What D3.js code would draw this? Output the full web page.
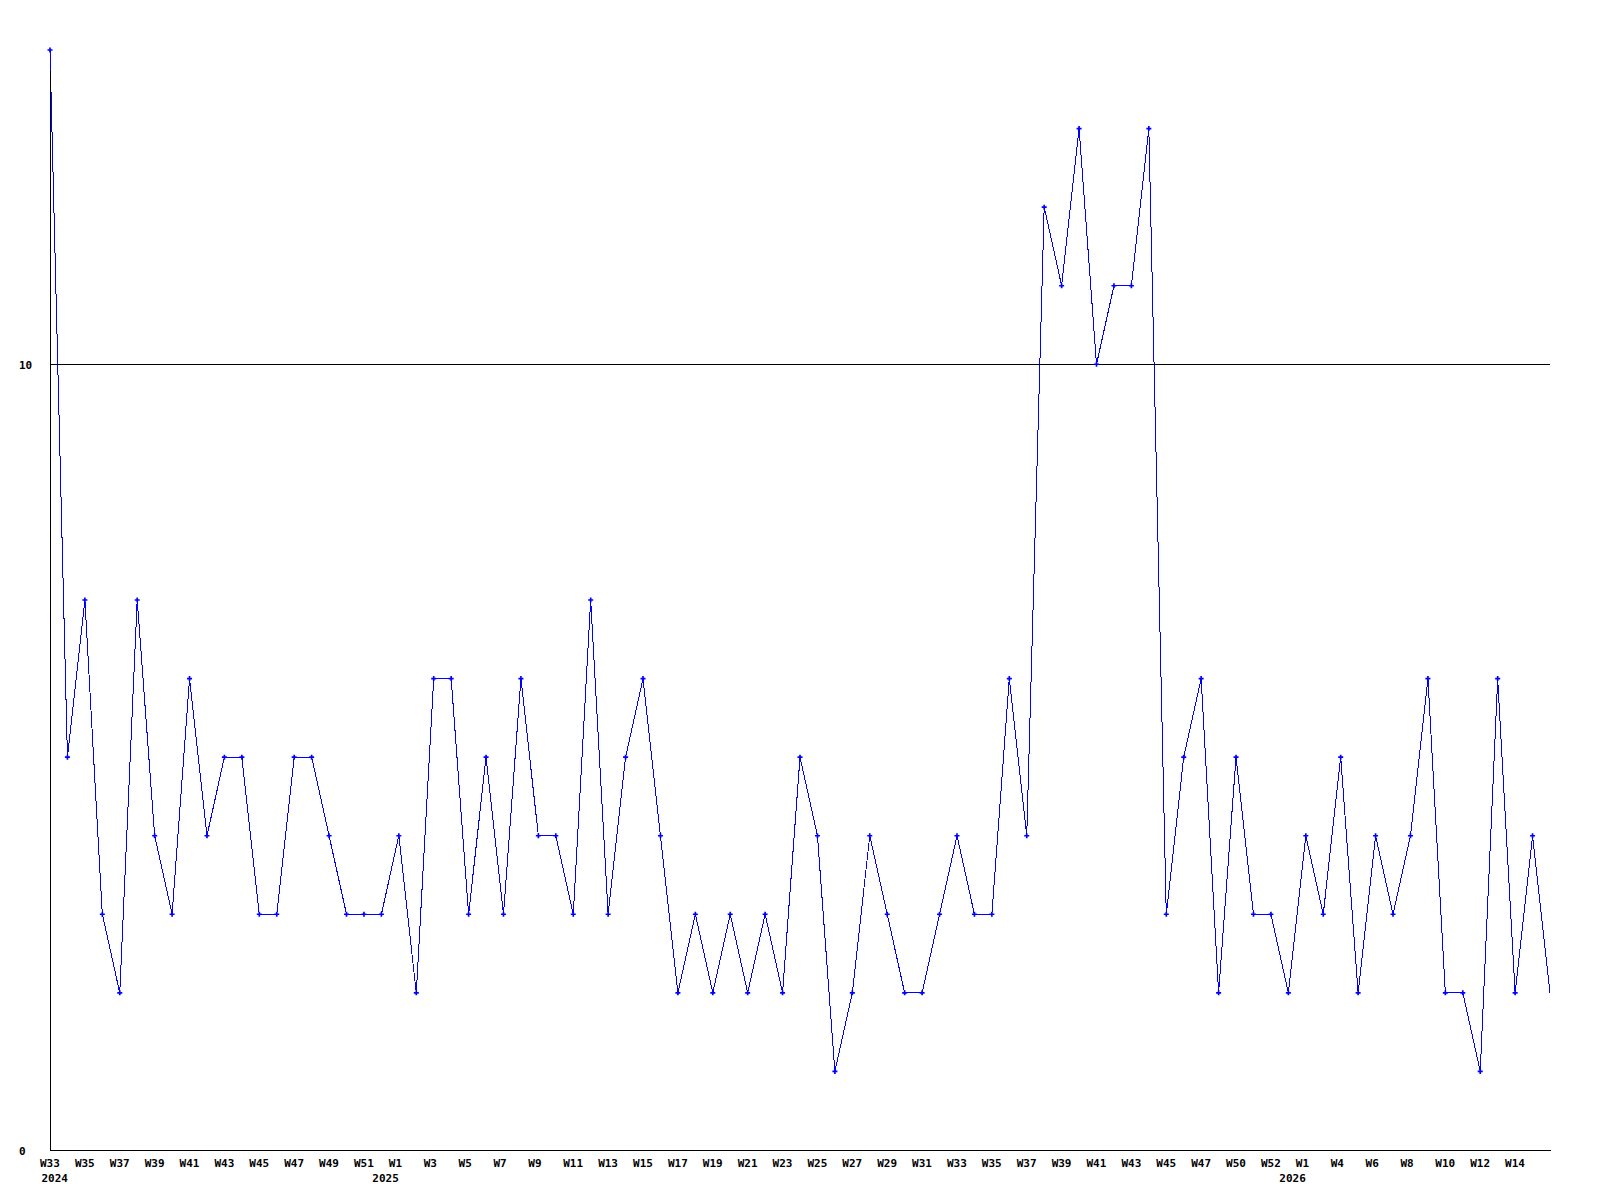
<!DOCTYPE html>
<html>
<head>
<meta charset="utf-8">
<script src="https://cdn.jsdelivr.net/npm/d3@7"></script>
<style>
  body { margin: 0; background: #fff; }
  text { font-family: "DejaVu Sans Mono", monospace; font-weight: bold; font-size: 11px; fill: #000; }
</style>
</head>
<body>
<div id="chart"></div>
<script>
var svgWidth = 1600;
var svgHeight = 1200;

// weekly counts, 2024-W33 .. 2026-W15
var values2024 = [14, 5, 7, 3, 2, 7, 4, 3, 6, 4, 5, 5, 3, 3, 5, 5, 4, 3, 3, 3];
var values2025 = [4, 2, 6, 6, 3, 5, 3, 6, 4, 4, 3, 7, 3, 5, 6, 4, 2, 3, 2, 3,
                  2, 3, 2, 5, 4, 1, 2, 4, 3, 2, 2, 3, 4, 3, 3, 6, 4, 12, 11, 13,
                  10, 11, 11, 13, 3, 5, 6, 2, 5, 3, 3, 2];
var values2026 = [4, 3, 5, 2, 4, 3, 4, 6, 2, 2, 1, 6, 2, 4, 2];

// one label every second week, as printed on the original
var weekLabels = ["W33", "W35", "W37", "W39", "W41", "W43", "W45", "W47", "W49", "W51",
                  "W1", "W3", "W5", "W7", "W9", "W11", "W13", "W15", "W17", "W19",
                  "W21", "W23", "W25", "W27", "W29", "W31", "W33", "W35", "W37", "W39",
                  "W41", "W43", "W45", "W47", "W50", "W52", "W1", "W4", "W6", "W8",
                  "W10", "W12", "W14"];
var yearLabels = ["2024", "2025", "2026"];
var yearLabelSlots = [0, 10, 36];   // index into weekLabels
var yTicks = [0, 10];

var values = values2024.concat(values2025, values2026);

var margin = { top: 50, right: 50, bottom: 50, left: 50 };
var chartWidth = svgWidth - margin.left - margin.right;
var chartHeight = svgHeight - margin.top - margin.bottom;

var svg = d3.select("#chart")
  .append("svg")
  .attr("width", svgWidth)
  .attr("height", svgHeight);

var chartGroup = svg.append("g")
  .attr("transform", `translate(${margin.left}, ${margin.top})`);

var xScale = d3.scaleLinear()
  .domain([0, values.length - 1])
  .range([0, chartWidth]);

var yScale = d3.scaleLinear()
  .domain([0, d3.max(values)])
  .range([chartHeight, 0]);

// data line
var line = d3.line()
  .x((d, i) => xScale(i))
  .y(d => yScale(d));

chartGroup.append("path")
  .datum(values)
  .attr("d", line)
  .attr("fill", "none")
  .attr("stroke", "#0000ff")
  .attr("stroke-width", 1)
  .attr("shape-rendering", "crispEdges");

// gridline at 10
chartGroup.selectAll(".grid")
  .data(yTicks.filter(t => t > 0))
  .enter()
  .append("line")
  .attr("x1", 0)
  .attr("x2", chartWidth)
  .attr("y1", d => Math.round(yScale(d)) + 0.5)
  .attr("y2", d => Math.round(yScale(d)) + 0.5)
  .attr("stroke", "#000")
  .attr("shape-rendering", "crispEdges");

// axes
var xAxis = d3.axisBottom(xScale).tickValues([]).tickSize(0).tickSizeOuter(0);
chartGroup.append("g")
  .attr("transform", `translate(0, ${chartHeight + 0.5})`)
  .call(xAxis)
  .select(".domain")
  .attr("stroke", "#000")
  .attr("d", `M0,0H${chartWidth + 1}`)
  .attr("shape-rendering", "crispEdges");

var yAxis = d3.axisLeft(yScale).tickValues([]).tickSize(0).tickSizeOuter(0);
chartGroup.append("g")
  .attr("transform", "translate(0.5, 0)")
  .call(yAxis)
  .select(".domain")
  .attr("stroke", "#000")
  .attr("d", `M0,${yScale(13.73)}V${chartHeight + 1}`)
  .attr("shape-rendering", "crispEdges");

// markers, last (current) week has none
chartGroup.selectAll(".marker")
  .data(values.slice(0, values.length - 1))
  .enter()
  .append("path")
  .attr("class", "marker")
  .attr("d", d3.symbol().type(d3.symbolCross).size(14))
  .attr("transform", (d, i) => `translate(${xScale(i)}, ${yScale(d)})`)
  .attr("fill", "#0000ff");

// y labels
chartGroup.selectAll(".ylabel")
  .data(yTicks)
  .enter()
  .append("text")
  .attr("x", -31)
  .attr("y", d => yScale(d) + 4.5)
  .text(d => d);

// week labels
chartGroup.selectAll(".wlabel")
  .data(weekLabels)
  .enter()
  .append("text")
  .attr("x", (d, k) => xScale(2 * k) - 10)
  .attr("y", chartHeight + 17)
  .text(d => d);

// year labels, right-aligned under their week label
chartGroup.selectAll(".ylab")
  .data(yearLabels)
  .enter()
  .append("text")
  .attr("x", (d, i) => Math.max(xScale(2 * yearLabelSlots[i]), 18))
  .attr("y", chartHeight + 31.5)
  .attr("text-anchor", "end")
  .text(d => d);
</script>
</body>
</html>
